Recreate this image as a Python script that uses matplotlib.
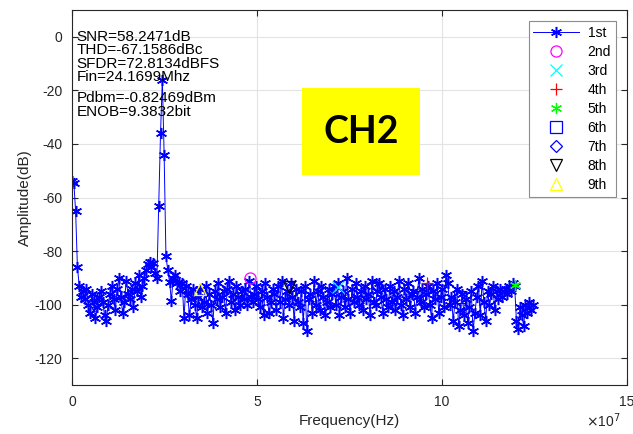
import numpy as np
import matplotlib
matplotlib.use("Agg")
import matplotlib.pyplot as plt
from matplotlib.patches import Rectangle
from matplotlib.ticker import FuncFormatter

plt.rcParams["font.family"] = ["Liberation Sans", "DejaVu Sans"]
plt.rcParams["axes.unicode_minus"] = False

# spectrum, one value per FFT bin (fs = 250 MHz, N = 512)
fs = 250e6
nfft = 512
amp_db = [
    -54, -54.5, -65, -86, -93, -97, -95, -98, -94, -100, -103, -96, -99, -105, -101, -97,
    -95, -99, -104, -106, -100, -96, -93, -98, -102, -94, -90, -97, -103, -99, -91, -96,
    -98, -94, -101, -92, -95, -89, -97, -93, -90, -87, -85, -84, -86, -84.5, -88,
    -90, -63, -36, -16, -44, -82, -87,
    -91.5, -98.5, -90, -89, -92, -91.5, -95, -92, -105, -93,
    -96, -104, -98, -94, -100, -105, -97, -94, -101, -99, -93, -103, -96, -100, -107, -95,
    -98, -92, -101, -97, -95, -103, -94, -91, -99, -96, -102, -93, -97, -100, -95, -98,
    -94, -100, -91, -97, -99, -96, -93, -98, -101, -95, -104, -92, -97, -103, -99, -94,
    -96, -102, -93, -99, -91, -105, -98, -95, -100, -92, -97, -106, -94, -99, -101, -95,
    -107, -93, -110, -98, -96, -103, -91, -100, -95, -102, -93, -97, -104, -99, -94, -101,
    -96, -93, -100, -92, -104, -97, -95, -101, -90, -98, -103, -94, -99, -92, -97, -100,
    -95, -102, -93, -98, -96, -104, -91, -99, -100, -95, -92, -97, -103, -94, -98, -101,
    -93, -99, -95, -102, -97, -91, -100, -104, -94, -98, -92, -101, -96, -95, -103, -97,
    -90, -99, -94, -101, -96, -93, -100, -105, -95, -98, -92, -103, -97, -94, -101, -89,
    -92, -100, -97, -106, -99, -94, -108, -102, -96, -104, -98, -107, -101, -95, -110, -103,
    -97, -93, -104, -91, -99, -106, -95, -100, -96, -93, -102, -95, -98, -94, -97, -95,
    -94, -96, -93, -95, -92, -93, -106, -109, -101, -104, -108, -100, -103, -99, -102, -100,
]
freq = np.arange(len(amp_db)) * fs / nfft

# harmonics 2nd..9th (aliased positions, Hz) and levels (dB)
harm_names = ["2nd", "3rd", "4th", "5th", "6th", "7th", "8th", "9th"]
harm_freq = [48.1e6, 71.9e6, 95.9e6, 119.7e6, 105.0e6, 82.4e6, 58.6e6, 34.6e6]
harm_db = [-90, -93.5, -92, -92.7, -97, -92.7, -93.4, -94]
harm_marker = ["o", "x", "+", (6, 2, 0), "s", "D", "v", "^"]
harm_color = ["#ff00ff", "#00ffff", "#ff0000", "#00ff00", "#0000ff", "#0000ff", "#000000", "#ffff00"]

info_lines = [
    ("SNR=58.2471dB", 0),
    ("THD=-67.1586dBc", -5),
    ("SFDR=72.8134dBFS", -10),
    ("Fin=24.1699Mhz", -15),
    ("Pdbm=-0.82469dBm", -23),
    ("ENOB=9.3832bit", -28),
]

fig = plt.figure(figsize=(6.33, 4.34), dpi=100)
ax = fig.add_axes([72 / 633, 1 - 385 / 434, 555 / 633, 375 / 434])

ax.plot(freq, amp_db, color="#0000ff", lw=0.7, marker=(6, 2, 0), ms=8, mew=1.1, label="1st")
for name, f, a, m, c in zip(harm_names, harm_freq, harm_db, harm_marker, harm_color):
    ms = 6.5 if m == "D" else 8
    ax.plot([f], [a], ls="none", marker=m, ms=ms, mfc="none", mec=c, mew=0.9, label=name)

for txt, y in info_lines:
    ax.text(1.3e6, y, txt, fontsize=11, va="center", ha="left", color="black")

ax.set_xlim(0, 1.5e8)
ax.set_ylim(-130, 10)
ax.set_xticks([0, 5e7, 1e8, 1.5e8])
ax.set_yticks(np.arange(-120, 1, 20))
ax.xaxis.set_major_formatter(FuncFormatter(lambda v, p: f"{v / 1e7:g}"))

ax.grid(True, color="#e3e3e3", lw=0.8)
ax.set_axisbelow(True)
ax.tick_params(direction="in", top=True, right=True, length=4, width=0.8,
               labelsize=10, colors="#262626", pad=7)
for sp in ax.spines.values():
    sp.set_color("#262626")
    sp.set_linewidth(0.8)

ax.set_xlabel("Frequency(Hz)", fontsize=11, color="#262626", labelpad=4)
ax.set_ylabel("Amplitude(dB)", fontsize=11, color="#262626", labelpad=2)
fig.text(621 / 633, 4 / 434, r"$\times$10$^7$", fontsize=10, color="#262626", ha="right", va="bottom")

leg = ax.legend(loc="upper right", fontsize=10, handlelength=3.3, labelspacing=0.36,
                fancybox=False, framealpha=1, edgecolor="#8c8c8c",
                borderaxespad=0.8, handletextpad=0.6, borderpad=0.35)
leg.get_frame().set_linewidth(0.8)

# CH2 tag
fig.patches.append(Rectangle((302 / 633, 1 - 175 / 434), 118 / 633, 87 / 434,
                             transform=fig.transFigure, facecolor="#ffff00", edgecolor="none", zorder=5))
fig.text(361 / 633, 1 - 132 / 434, "CH2", fontsize=27, fontweight="bold", family=["Lato", "DejaVu Sans"],
         ha="center", va="center", color="black", zorder=6)

fig.savefig("out.png", dpi=100)
